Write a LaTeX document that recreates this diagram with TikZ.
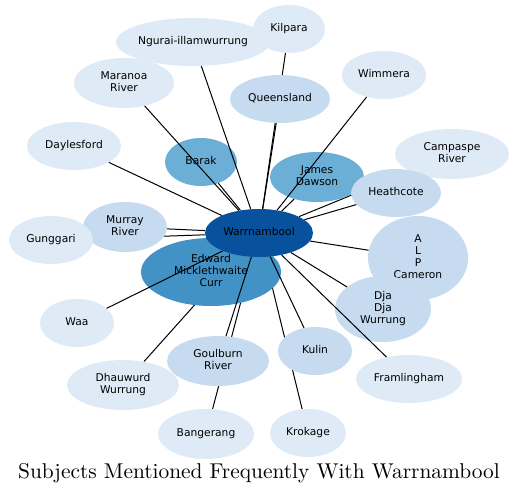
\documentclass[tikz,border=0pt]{standalone}
\usepackage{fontspec}
\setsansfont{DejaVu Sans}
\newfontfamily\titlefont{lmroman10-regular}[Extension=.otf]
\usetikzlibrary{shapes.geometric}
\pgfdeclarelayer{bg}
\pgfdeclarelayer{fg}
\pgfsetlayers{bg,main,fg}
\definecolor{bA}{HTML}{DEEBF7}
\definecolor{bB}{HTML}{C6DBEF}
\definecolor{bC}{HTML}{6BAED6}
\definecolor{bD}{HTML}{4292C6}
\definecolor{bE}{HTML}{08519C}
\newcommand{\nl}[1]{\makebox[0pt]{\begin{tabular}{@{}c@{}}#1\end{tabular}}}
\begin{document}
\begin{tikzpicture}[x=1pt,y=-1pt,
  ent/.style={ellipse, inner sep=0pt, draw=none, font=\sffamily\fontsize{10.7}{12}\selectfont},
  sz/.style 2 args={minimum width=#1pt, minimum height=#2pt},
  lA/.style={ent, fill=bA},
  lB/.style={ent, fill=bB},
  lC/.style={ent, fill=bC},
  lD/.style={ent, fill=bD},
  lE/.style={ent, fill=bE},
  link/.style={draw=black, line width=1pt}]
\useasboundingbox (0,0) rectangle (519,494);

\node[lA, sz={72}{48}] (kil) at (289,29) {\nl{Kilpara}};
\node[lA, sz={154}{48}] (ngu) at (193,42) {\nl{Ngurai-illamwurrung}};
\node[lA, sz={100}{50}] (mar) at (124,83) {\nl{Maranoa\\River}};
\node[lB, sz={100}{48}] (que) at (280,99) {\nl{Queensland}};
\node[lA, sz={84}{48}] (wim) at (384,75) {\nl{Wimmera}};
\node[lA, sz={94}{48}] (day) at (74,146) {\nl{Daylesford}};
\node[lC, sz={72}{48}] (bar) at (201,162) {\nl{Barak}};
\node[lC, sz={94}{50}] (jam) at (317,177) {\nl{James\\Dawson}};
\node[lA, sz={114}{50}] (cam) at (452,154) {\nl{Campaspe\\River}};
\node[lB, sz={90}{48}] (hea) at (396,193) {\nl{Heathcote}};
\node[lB, sz={84}{50}] (mur) at (125,227) {\nl{Murray\\River}};
\node[lA, sz={84}{48}] (gun) at (51,240) {\nl{Gunggari}};
\node[lD, sz={140}{68}] (edw) at (211,272) {\nl{Edward\\Micklethwaite\\Curr}};
\node[lE, sz={108}{48}] (war) at (259,233) {\nl{Warrnambool}};
\node[lB, sz={100}{84}] (alp) at (418,258) {\nl{A\\L\\P\\Cameron}};
\node[lB, sz={96}{66}] (dja) at (383,309) {\nl{Dja\\Dja\\Wurrung}};
\node[lA, sz={74}{48}] (waa) at (77,323) {\nl{Waa}};
\node[lA, sz={112}{50}] (dha) at (123,385) {\nl{Dhauwurd\\Wurrung}};
\node[lB, sz={102}{50}] (gou) at (218,361) {\nl{Goulburn\\River}};
\node[lB, sz={74}{48}] (kul) at (315,351) {\nl{Kulin}};
\node[lA, sz={106}{48}] (fra) at (409,379) {\nl{Framlingham}};
\node[lA, sz={96}{50}] (ban) at (206,434) {\nl{Bangerang}};
\node[lA, sz={76}{48}] (kro) at (308,433) {\nl{Krokage}};

\node[anchor=base, inner sep=0pt, font=\titlefont\fontsize{21.4}{24}\selectfont] (title) at (259,478) {Subjects Mentioned Frequently With Warrnambool};

\begin{pgfonlayer}{bg}
\draw[link] (war) -- (kil);
\draw[link] (war) -- (gun);
\draw[link] (war) -- (cam);
\draw[link] (war) -- (ban);
\draw[link] (war) -- (dha);
\draw[link] (war) -- (kro);
\draw[link] (war) -- (edw);
\end{pgfonlayer}

\begin{pgfonlayer}{fg}
\draw[link] (war) -- (ngu);
\draw[link] (war) -- (mar);
\draw[link] (war) -- (que);
\draw[link] (war) -- (wim);
\draw[link] (war) -- (day);
\draw[link] (war) -- (bar);
\draw[link] (war) -- (jam);
\draw[link] (war) -- (hea);
\draw[link] (war) -- (mur);
\draw[link] (war) -- (alp);
\draw[link] (war) -- (dja);
\draw[link] (war) -- (waa);
\draw[link] (war) -- (gou);
\draw[link] (war) -- (kul);
\draw[link] (war) -- (fra);
\end{pgfonlayer}
\end{tikzpicture}
\end{document}
